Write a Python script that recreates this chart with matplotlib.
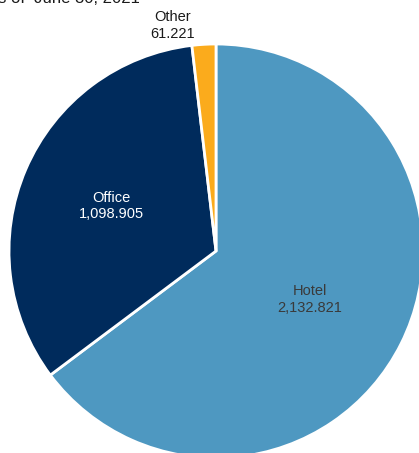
import matplotlib
matplotlib.use("Agg")
import matplotlib.pyplot as plt
import numpy as np

# data
labels = ["Hotel", "Office", "Other"]
values = [2132.821, 1098.905, 61.221]
value_text = ["2,132.821", "1,098.905", "61.221"]
colors = ["#4e98c1", "#002b5c", "#fbab1c"]
text_colors = ["#3a3a3a", "#ffffff", "#1a1a1a"]

plt.rcParams["font.family"] = ["Liberation Sans", "DejaVu Sans"]

W, H = 419, 453
fig = plt.figure(figsize=(W / 100, H / 100), dpi=100)
ax = fig.add_axes([0, 0, 1, 1])

cx, cy, r = 216, H - 251, 207
wedges, _ = ax.pie(values, colors=colors, startangle=90, counterclock=False,
                   center=(cx, cy), radius=r, frame=True,
                   wedgeprops=dict(edgecolor="white", linewidth=2))
ax.set_xlim(0, W)
ax.set_ylim(0, H)
ax.set_aspect("equal")
ax.axis("off")

# label placement (fraction of radius along the mid angle)
dist = [0.51, 0.55, 1.11]
angle_shift = [-0.8, 0.0, 7.5]
for w, lab, vt, tc, d, sh in zip(wedges, labels, value_text, text_colors, dist, angle_shift):
    mid = np.radians((w.theta1 + w.theta2) / 2 + sh)
    x = cx + d * r * np.cos(mid)
    y = cy + d * r * np.sin(mid)
    ax.text(x, y, f"{lab}\n{vt}", ha="center", va="center", color=tc,
            fontsize=10.5, linespacing=1.25)

# title, cut off at the top edge as in the source image
ax.text(140, H - 3, "Total Square Footage as of  June 30, 2021", ha="right",
        va="baseline", fontsize=12, color="#1a1a1a")

fig.savefig("out.png", dpi=100)
